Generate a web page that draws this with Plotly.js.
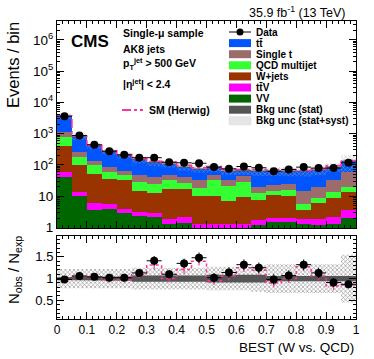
<!DOCTYPE html>
<html>
<head>
<meta charset="utf-8">
<script src="https://cdn.plot.ly/plotly-3.0.1.min.js"></script>
<style>
  html, body { margin: 0; padding: 0; background: #fff; }
  #chart { width: 374px; height: 359px; }
</style>
</head>
<body>
<div id="chart"></div>
<script>
// BEST (W vs. QCD) bins, width 0.05
var binCentres = [0.025, 0.075, 0.125, 0.175, 0.225, 0.275, 0.325, 0.375, 0.425, 0.475,
                  0.525, 0.575, 0.625, 0.675, 0.725, 0.775, 0.825, 0.875, 0.925, 0.975];
var binWidth = 0.05;

// events / bin
var dataCounts = [3600, 870, 440, 275, 210, 170, 170, 122, 117, 113, 85, 75, 89, 81, 63, 71, 85, 79, 79, 117];
var ttbar      = [2570, 566, 285, 181, 140, 104, 81, 65, 47, 44, 35, 33, 24, 45, 41, 41, 49, 50, 55, 75];
var singleTop  = [330, 78, 42, 30, 18, 18, 16, 13, 14, 13.5, 15, 11, 15, 7, 8, 9, 9.3, 10.6, 18.5, 39.5];
var qcd        = [355, 81, 44, 23, 16, 13, 11, 16, 9, 8, 22.5, 15, 18.7, 4.8, 4, 5.5, 2.2, 2.9, 4.9, 6.1];
var wjets      = [356, 82, 46, 30, 28, 12, 10, 15, 15, 9.2, 9.2, 5.6, 8, 5.9, 9, 8.5, 1.6, 4.1, 6.4, 9.8];
var ttv        = [19, 4, 2.7, 1.9, 1.1, 0.8, 0.8, 0.6, 0.7, 0.4, 0.4, 0.4, 0.4, 0.6, 0.5, 0.5, 0.6, 0.7, 0.9, 1.6];
var vv         = [40, 10, 3.5, 3.8, 2.9, 2.4, 2.1, 1.3, 1.4, 0.9, 0.9, 0.9, 0.9, 1.2, 1.5, 1.5, 1.3, 1.2, 1.3, 2.0];

// relative bkg uncertainties
var statUnc = [0.03, 0.04, 0.05, 0.05, 0.05, 0.07, 0.07, 0.07, 0.07, 0.07, 0.09, 0.09, 0.09, 0.09, 0.06, 0.06, 0.06, 0.06, 0.06, 0.06];
var totUnc  = [0.22, 0.22, 0.22, 0.22, 0.22, 0.25, 0.25, 0.25, 0.25, 0.25, 0.27, 0.27, 0.27, 0.30, 0.33, 0.33, 0.33, 0.33, 0.33, 0.55];

// ratio panel
var ratioObs    = [0.98, 1.06, 1.04, 1.02, 1.02, 1.13, 1.41, 1.10, 1.35, 1.48, 1.02, 1.14, 1.32, 1.25, 0.98, 1.07, 1.32, 1.13, 0.91, 0.87];
var ratioErr    = [0.02, 0.04, 0.05, 0.06, 0.07, 0.08, 0.11, 0.10, 0.11, 0.12, 0.11, 0.12, 0.12, 0.12, 0.12, 0.12, 0.12, 0.12, 0.10, 0.09];
var herwigRatio = [0.98, 1.05, 1.03, 0.97, 0.97, 1.09, 1.31, 1.00, 1.21, 1.40, 0.95, 1.06, 1.25, 1.19, 0.90, 1.00, 1.27, 1.06, 0.83, 0.85];
var herwigErr   = [0.03, 0.04, 0.05, 0.06, 0.06, 0.08, 0.10, 0.09, 0.10, 0.10, 0.10, 0.10, 0.10, 0.10, 0.10, 0.10, 0.10, 0.10, 0.09, 0.08];

var yTickVals = [1, 10, 100, 1000, 10000, 100000, 1000000];
var yTickText = ['1', '10', '10<sup>2</sup>', '10<sup>3</sup>', '10<sup>4</sup>', '10<sup>5</sup>', '10<sup>6</sup>'];

var FONT = 'Liberation Sans, Arial, Helvetica, sans-serif';
var herwigColor = '#ff3399';

var procs = [
    {name: 'VV', y: vv, color: '#006600'},
    {name: 'tt\u0304V', y: ttv, color: '#ff00ff'},
    {name: 'W+jets', y: wjets, color: '#993300'},
    {name: 'QCD multijet', y: qcd, color: '#33ff33'},
    {name: 'Single t', y: singleTop, color: '#9c6b6b'},
    {name: 'tt\u0304', y: ttbar, color: '#0055ff'}
];

var total = binCentres.map(function(_, i) {
    var s = 0;
    procs.forEach(function(p) { s += p.y[i]; });
    return s;
});

// step polygon between lo and hi
function bandPath(lo, hi) {
    var xs = [], ys = [];
    for (var i = 0; i < binCentres.length; i++) {
        xs.push(binCentres[i] - binWidth / 2, binCentres[i] + binWidth / 2);
        ys.push(hi[i], hi[i]);
    }
    for (var j = binCentres.length - 1; j >= 0; j--) {
        xs.push(binCentres[j] + binWidth / 2, binCentres[j] - binWidth / 2);
        ys.push(lo[j], lo[j]);
    }
    return {x: xs, y: ys};
}

function stepLine(vals) {
    var xs = [], ys = [];
    for (var i = 0; i < binCentres.length; i++) {
        xs.push(binCentres[i] - binWidth / 2, binCentres[i] + binWidth / 2);
        ys.push(vals[i], vals[i]);
    }
    return {x: xs, y: ys};
}

var traces = [];

// top panel stack
procs.forEach(function(p) {
    traces.push({
        type: 'bar', x: binCentres, y: p.y, width: binWidth,
        xaxis: 'x2', yaxis: 'y2', name: p.name,
        marker: {color: p.color, line: {width: 0}},
        showlegend: false, hoverinfo: 'skip'
    });
});

var topSyst = bandPath(total.map(function(t, i) { return t * (1 - totUnc[i]); }),
                       total.map(function(t, i) { return t * (1 + totUnc[i]); }));
traces.push({
    type: 'scatter', mode: 'lines', x: topSyst.x, y: topSyst.y, xaxis: 'x2', yaxis: 'y2',
    fill: 'toself', fillcolor: 'rgba(0,0,0,0)', line: {width: 0},
    fillpattern: {shape: 'x', fgcolor: '#aaaaaa', bgcolor: 'rgba(0,0,0,0)', size: 3, solidity: 0.25},
    showlegend: false, hoverinfo: 'skip'
});
var topStat = bandPath(total.map(function(t, i) { return t * (1 - statUnc[i]); }),
                       total.map(function(t, i) { return t * (1 + statUnc[i]); }));
traces.push({
    type: 'scatter', mode: 'lines', x: topStat.x, y: topStat.y, xaxis: 'x2', yaxis: 'y2',
    fill: 'toself', fillcolor: 'rgba(85,85,85,0.6)', line: {width: 0},
    showlegend: false, hoverinfo: 'skip'
});

var herwigTop = stepLine(dataCounts.map(function(d, i) { return d / herwigRatio[i]; }));
traces.push({
    type: 'scatter', mode: 'lines', x: herwigTop.x, y: herwigTop.y, xaxis: 'x2', yaxis: 'y2',
    line: {color: herwigColor, width: 1.5, dash: 'dashdot'},
    showlegend: false, hoverinfo: 'skip'
});

traces.push({
    type: 'scatter', mode: 'markers', x: binCentres, y: dataCounts, xaxis: 'x2', yaxis: 'y2',
    marker: {color: 'black', size: 8},
    error_x: {type: 'constant', value: binWidth / 2, color: 'black', thickness: 1, width: 0},
    showlegend: false
});

// ratio panel
var rSyst = bandPath(totUnc.map(function(u) { return 1 - u; }), totUnc.map(function(u) { return 1 + u; }));
traces.push({
    type: 'scatter', mode: 'lines', x: rSyst.x, y: rSyst.y,
    fill: 'toself', fillcolor: 'rgba(0,0,0,0)', line: {width: 0},
    fillpattern: {shape: 'x', fgcolor: '#888888', bgcolor: 'rgba(0,0,0,0)', size: 3, solidity: 0.35},
    showlegend: false, hoverinfo: 'skip'
});
var rStat = bandPath(statUnc.map(function(u) { return 1 - u; }), statUnc.map(function(u) { return 1 + u; }));
traces.push({
    type: 'scatter', mode: 'lines', x: rStat.x, y: rStat.y,
    fill: 'toself', fillcolor: '#555555', line: {width: 0},
    showlegend: false, hoverinfo: 'skip'
});
var herwigStep = stepLine(herwigRatio);
traces.push({
    type: 'scatter', mode: 'lines', x: herwigStep.x, y: herwigStep.y,
    line: {color: herwigColor, width: 1.5, dash: 'dot'},
    showlegend: false, hoverinfo: 'skip'
});
traces.push({
    type: 'scatter', mode: 'markers', x: binCentres, y: herwigRatio,
    marker: {size: 0.1, color: herwigColor},
    error_y: {type: 'data', array: herwigErr, color: herwigColor, thickness: 1.2, width: 0},
    showlegend: false, hoverinfo: 'skip'
});
traces.push({
    type: 'scatter', mode: 'markers', x: binCentres, y: ratioObs,
    marker: {color: 'black', size: 8},
    error_x: {type: 'constant', value: binWidth / 2, color: 'black', thickness: 1, width: 0},
    error_y: {type: 'data', array: ratioErr, color: 'black', thickness: 1, width: 0},
    showlegend: false
});

// pixel -> paper helpers (plot area 57..356 x 21..319)
function px(x) { return (x - 57) / 299; }
function py(y) { return (319 - y) / 298; }

var legendItems = [
    {name: 'Data', kind: 'data'},
    {name: 'tt\u0304', color: '#0055ff'},
    {name: 'Single t', color: '#9c6b6b'},
    {name: 'QCD multijet', color: '#33ff33'},
    {name: 'W+jets', color: '#993300'},
    {name: 'tt\u0304V', color: '#ff00ff'},
    {name: 'VV', color: '#006600'},
    {name: 'Bkg unc (stat)', color: '#555555'},
    {name: 'Bkg unc (stat+syst)', kind: 'hatch'}
];

var shapes = [];
var annotations = [];
legendItems.forEach(function(it, i) {
    var yc = 32 + i * 11.1;
    if (it.kind === 'data') {
        shapes.push({type: 'line', xref: 'paper', yref: 'paper', x0: px(229), x1: px(251), y0: py(yc), y1: py(yc),
                     line: {color: 'black', width: 1}});
        shapes.push({type: 'circle', xref: 'paper', yref: 'paper', x0: px(236.5), x1: px(243.5), y0: py(yc + 3.5), y1: py(yc - 3.5),
                     fillcolor: 'black', line: {width: 0}});
    } else if (it.kind === 'hatch') {
        shapes.push({type: 'rect', xref: 'paper', yref: 'paper', x0: px(229), x1: px(251), y0: py(yc + 4), y1: py(yc - 4),
                     fillcolor: '#e6e6e6', line: {color: '#d8d8d8', width: 0.5}});
    } else {
        shapes.push({type: 'rect', xref: 'paper', yref: 'paper', x0: px(229), x1: px(251), y0: py(yc + 4), y1: py(yc - 4),
                     fillcolor: it.color, line: {width: 0}});
    }
    annotations.push({xref: 'paper', yref: 'paper', x: px(254), y: py(yc), xanchor: 'left', yanchor: 'middle',
                      text: '<b>' + it.name + '</b>', showarrow: false, font: {family: FONT, size: 10, color: 'black'}});
});

// SM (Herwig) entry
shapes.push({type: 'line', xref: 'paper', yref: 'paper', x0: px(122), x1: px(143), y0: py(110), y1: py(110),
             line: {color: herwigColor, width: 2, dash: 'dashdot'}});
annotations.push({xref: 'paper', yref: 'paper', x: px(147), y: py(110), xanchor: 'left', yanchor: 'middle',
                  text: '<b>SM (Herwig)</b>', showarrow: false, font: {family: FONT, size: 10.5, color: 'black'}});

var infoLines = [
    {t: '<b>Single-\u03bc sample</b>', y: 33},
    {t: '<b>AK8 jets</b>', y: 49},
    {t: '<b>p<sub>T</sub><sup>jet</sup> &gt; 500 GeV</b>', y: 64},
    {t: '<b>|\u03b7<sup>jet</sup>| &lt; 2.4</b>', y: 83}
];
infoLines.forEach(function(l) {
    annotations.push({xref: 'paper', yref: 'paper', x: px(121), y: py(l.y), xanchor: 'left', yanchor: 'middle',
                      text: l.t, showarrow: false, font: {family: FONT, size: 10.5, color: 'black'}});
});

annotations.push({xref: 'paper', yref: 'paper', x: px(69), y: py(41), xanchor: 'left', yanchor: 'middle',
                  text: '<b>CMS</b>', showarrow: false, font: {family: FONT, size: 17, color: 'black'}});
annotations.push({xref: 'paper', yref: 'paper', x: px(348), y: py(12), xanchor: 'right', yanchor: 'middle',
                  text: '35.9 fb<sup>-1</sup> (13 TeV)', showarrow: false, font: {family: FONT, size: 12.5, color: 'black'}});
annotations.push({xref: 'paper', yref: 'paper', x: px(13), y: py(65), xanchor: 'center', yanchor: 'middle', textangle: -90,
                  text: 'Events / bin', showarrow: false, font: {family: FONT, size: 16.5, color: 'black'}});
annotations.push({xref: 'paper', yref: 'paper', x: px(14), y: py(270), xanchor: 'center', yanchor: 'middle', textangle: -90,
                  text: 'N<sub>obs</sub> / N<sub>exp</sub>', showarrow: false, font: {family: FONT, size: 15, color: 'black'}});
annotations.push({xref: 'paper', yref: 'paper', x: px(356), y: py(347), xanchor: 'right', yanchor: 'middle',
                  text: 'BEST (W vs. QCD)', showarrow: false, font: {family: FONT, size: 13.5, color: 'black'}});

var axisCommon = {
    showline: true, linecolor: 'black', linewidth: 1, mirror: 'allticks',
    ticks: 'inside', ticklen: 7, tickcolor: 'black', showgrid: false, zeroline: false,
    tickfont: {family: FONT, size: 12, color: 'black'}
};

var layout = {
    width: 374, height: 359,
    margin: {l: 57, r: 18, t: 21, b: 40},
    paper_bgcolor: 'white', plot_bgcolor: 'white',
    barmode: 'stack', bargap: 0,
    showlegend: false,
    xaxis: Object.assign({}, axisCommon, {
        domain: [0, 1], anchor: 'y', range: [0, 1], dtick: 0.1,
        minor: {ticks: 'inside', ticklen: 3, dtick: 0.02, tickcolor: 'black'}
    }),
    yaxis: Object.assign({}, axisCommon, {
        domain: [0, 0.2785], anchor: 'x', range: [0.07, 1.98],
        tickvals: [0.5, 1, 1.5], ticktext: ['0.5', '1', '1.5'],
        tickfont: {family: FONT, size: 13, color: 'black'},
        minor: {ticks: 'inside', ticklen: 3, dtick: 0.1, tickcolor: 'black'}
    }),
    xaxis2: Object.assign({}, axisCommon, {
        domain: [0, 1], anchor: 'y2', matches: 'x', range: [0, 1], dtick: 0.1, showticklabels: false,
        minor: {ticks: 'inside', ticklen: 3, dtick: 0.02, tickcolor: 'black'}
    }),
    yaxis2: Object.assign({}, axisCommon, {
        domain: [0.305, 1], anchor: 'x2', type: 'log', range: [-0.02, 6.6],
        tickvals: yTickVals, ticktext: yTickText,
        tickfont: {family: FONT, size: 13.5, color: 'black'},
        minor: {ticks: 'inside', ticklen: 3, dtick: 'D1', tickcolor: 'black'}
    }),
    shapes: shapes,
    annotations: annotations
};

Plotly.newPlot('chart', traces, layout, {staticPlot: true, displayModeBar: false});
</script>
</body>
</html>
